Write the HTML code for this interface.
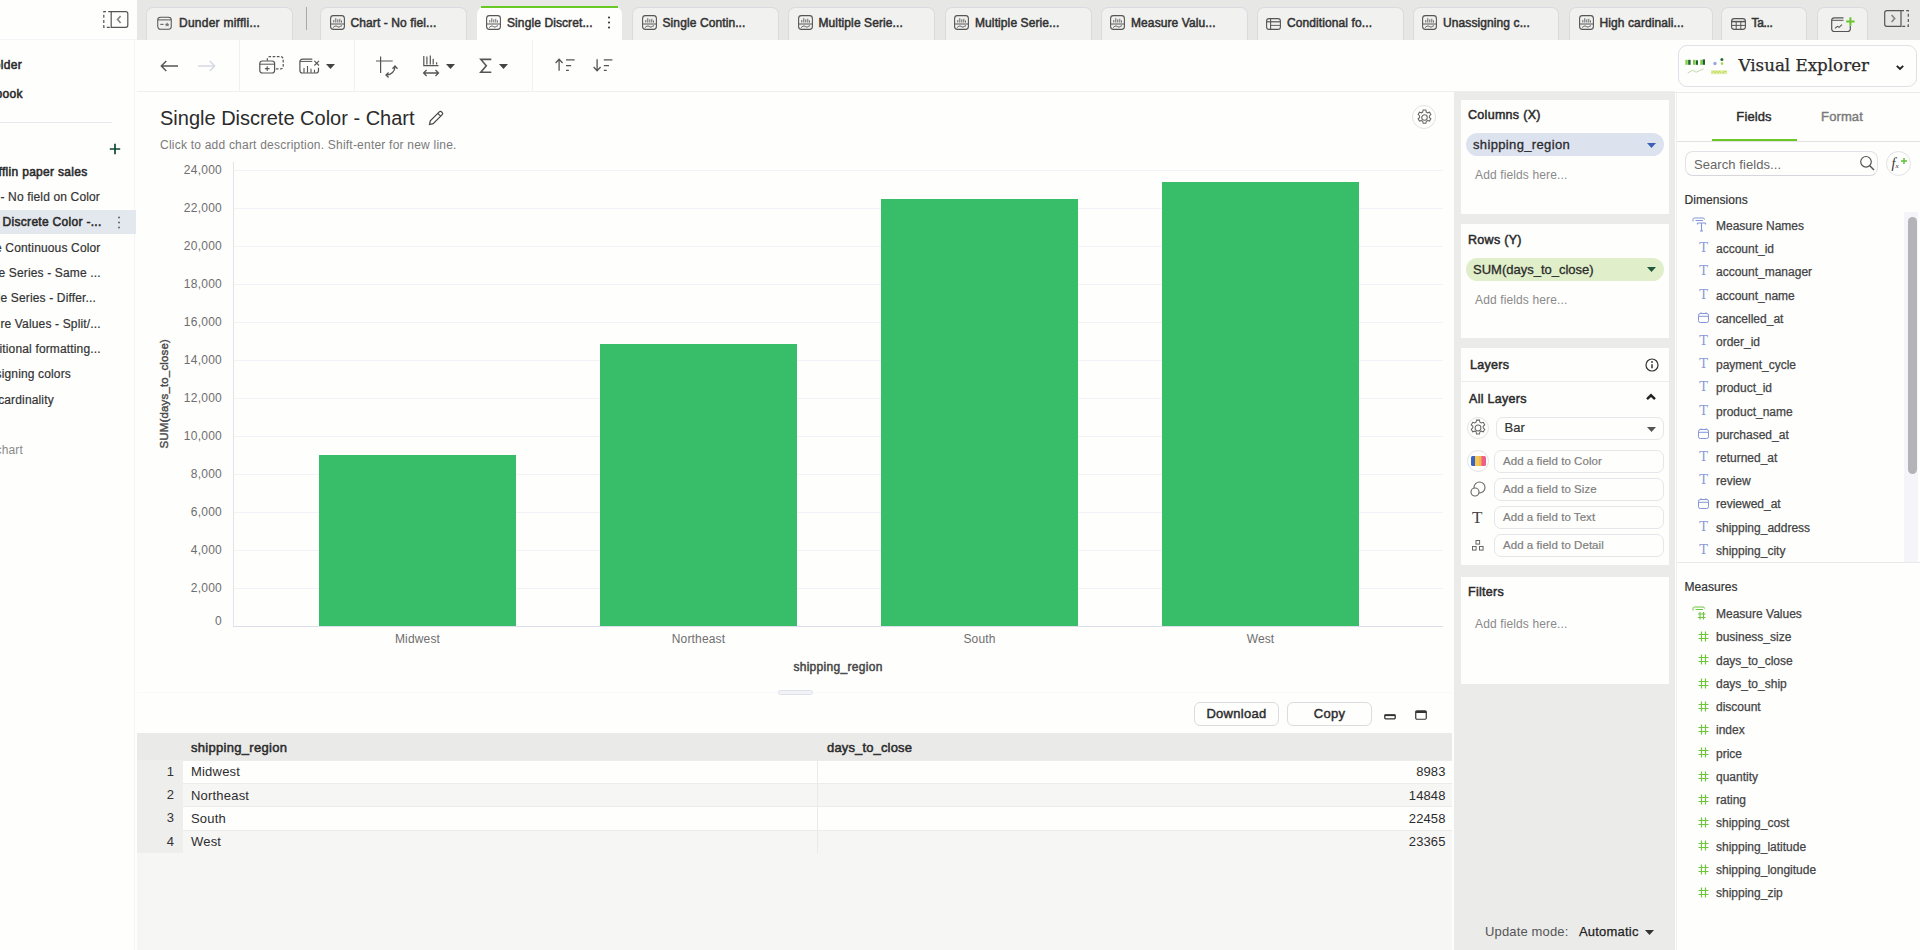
<!DOCTYPE html>
<html lang="en">
<head>
<meta charset="utf-8">
<title>Single Discrete Color - Chart</title>
<style>
*{box-sizing:border-box;margin:0;padding:0}
html,body{width:1920px;height:950px;overflow:hidden;background:#fefefd;}
body{font-family:"Liberation Sans",Arial,sans-serif;color:#2f2f2f;font-size:12px;position:relative;-webkit-font-smoothing:antialiased}
.abs{position:absolute}
svg{position:absolute;overflow:visible}
.t{position:absolute;white-space:nowrap;line-height:1}
/* ---------- left sidebar ---------- */
#side{left:0;top:0;width:137px;height:950px;background:#fefefd}
#side .t{font-size:12px;color:#333;-webkit-text-stroke:.2px #333;letter-spacing:.15px}
#side .b{-webkit-text-stroke:.55px #2b2b2b;color:#2b2b2b;letter-spacing:.3px}
.m{font-weight:normal;-webkit-text-stroke:.4px currentColor}
/* ---------- tab bar ---------- */
#tabbar{left:137px;top:0;width:1783px;height:40px;background:#e7e8e6}
.tab{position:absolute;top:7px;height:33px;background:#f1f1ef;border:1px solid #dadae0;border-bottom:none;border-radius:7px 7px 0 0}
.tab .t{left:29.5px;top:8.6px;font-size:12px;color:#333;-webkit-text-stroke:.5px #333;letter-spacing:.1px}
.tab.act{background:#fefefd;border-color:#fefefd}
.tab svg{left:8.8px;top:7px}
/* ---------- toolbar ---------- */
#toolbar{left:137px;top:40px;width:1538px;height:52px;border-bottom:1px solid #eeeef3}
.vsep{position:absolute;top:0;width:1px;height:51px;background:#f0f0f5}
/* ---------- chart ---------- */
#title{left:160px;top:108px;font-size:20px;color:#2b2b2b}
#sub{left:160px;top:138.5px;font-size:12px;color:#7a7a7a;letter-spacing:.22px}
.ytick{position:absolute;right:1698px;font-size:12px;letter-spacing:.25px;color:#6e6e6e;line-height:12px;text-align:right;white-space:nowrap}
.xtick{position:absolute;font-size:12px;color:#6e6e6e;line-height:12px;width:120px;text-align:center;top:632.7px;letter-spacing:.15px}
.bar{position:absolute;background:#38bd68;width:197px}
.grid{position:absolute;left:234px;width:1209px;height:1px;background:#f2f2f8}
/* ---------- data table ---------- */
#tbl{left:137px;top:733px;width:1315px;height:217px;background:#f6f6f5}
.btn{position:absolute;top:701.5px;height:24px;border:1px solid #dcdce0;border-radius:6px;font-size:13px;-webkit-text-stroke:.45px #2d2d2d;letter-spacing:.3px;color:#2d2d2d;text-align:center;line-height:22px;background:#fefefd}
/* ---------- config panel ---------- */
#cfg{left:1454px;top:92px;width:221px;height:858px;background:#ebebea}
.card{position:absolute;left:7px;width:208px;background:#fefefd}
.card h4{position:absolute;left:7px;font-size:12.5px;letter-spacing:.3px;-webkit-text-stroke:.5px #2b2b2b;font-weight:normal;color:#2b2b2b;line-height:1;white-space:nowrap}
.ph{position:absolute;left:14px;font-size:12px;letter-spacing:.13px;color:#8a8a8a;line-height:1;white-space:nowrap}
.pill{position:absolute;left:5px;width:198px;height:23px;border-radius:11.5px;font-size:13px;line-height:23px;padding-left:7px;color:#2b2b2b;-webkit-text-stroke:.3px #2b2b2b;white-space:nowrap}
.slot{position:absolute;left:33px;width:170px;height:23px;border:1px solid #e6e6ea;border-radius:7px;font-size:11.5px;letter-spacing:.05px;color:#7e7e7e;-webkit-text-stroke:.2px #7e7e7e;line-height:21px;padding-left:8px;white-space:nowrap}
/* ---------- fields panel ---------- */
#fields{left:1675px;top:40px;width:245px;height:910px;background:#fefefd}
.f{position:absolute;left:41px;font-size:12px;color:#444;line-height:1;white-space:nowrap;-webkit-text-stroke:.25px #444}
.sec{position:absolute;left:9.5px;font-size:12px;letter-spacing:.05px;color:#333;line-height:1;white-space:nowrap;-webkit-text-stroke:.2px #333}
</style>
</head>
<body>
<div id="side" class="abs">
<svg style="left:102.500px;top:10.700px" width="26" height="17" viewBox="0 0 26 17" fill="none" stroke="#555" stroke-width="1.200">
<path d="M8.200 .7H22.800a2 2 0 0 1 2 2V14.300a2 2 0 0 1-2 2H8.200z"/><path d="M8.200 .7H.8V16.300H8.200" stroke-dasharray="3 2.200"/><path d="M17.600 5 14.600 8.500 17.600 12" stroke="#888" stroke-width="1.800"/></svg>
<div class="t b" style="right:115px;top:58.5px;font-size:12px;">Folder</div>
<div class="t b" style="right:114.3px;top:87.5px;font-size:12px;">Notebook</div>
<div class="abs" style="left:0;top:122px;width:112px;height:1px;background:#e8e8f0"></div>
<div class="abs" style="left:0;top:39px;width:137px;height:1px;background:#f3f3f8"></div>
<div class="abs" style="left:134px;top:40px;width:1px;height:910px;background:#f4f4f9"></div>
<svg style="left:109px;top:142.5px" width="12" height="12" viewBox="0 0 12 12" stroke="#0c4a2f" stroke-width="1.7" fill="none"><path d="M6 .8V11.2M.8 6H11.2"/></svg>
<div class="abs" style="left:0;top:210px;width:136px;height:24px;background:#e3e7ee"></div>
<div class="t b" style="right:49.5px;top:165.5px;font-size:12px;">Dunder mifflin paper sales</div>
<div class="t " style="right:37px;top:190.8px;font-size:12px;">Chart - No field on Color</div>
<div class="t b" style="right:35.400000000000006px;top:216.1px;font-size:12px;">Single Discrete Color -...</div>
<div class="t " style="right:36.5px;top:241.5px;font-size:12px;">Single Continuous Color</div>
<div class="t " style="right:36.3px;top:266.7px;font-size:12px;">Multiple Series - Same ...</div>
<div class="t " style="right:41px;top:292.1px;font-size:12px;">Multiple Series - Differ...</div>
<div class="t " style="right:36.3px;top:317.5px;font-size:12px;">Measure Values - Split/...</div>
<div class="t " style="right:36.3px;top:343.0px;font-size:12px;">Conditional formatting...</div>
<div class="t " style="right:66px;top:368.2px;font-size:12px;">Unassigning colors</div>
<div class="t " style="right:83.2px;top:393.5px;font-size:12px;">High cardinality</div>
<div class="t " style="right:114px;top:444.0px;font-size:12px;color:#8a8a8a;-webkit-text-stroke:0">chart</div>
<svg style="left:117px;top:216px" width="4" height="13" viewBox="0 0 4 13" fill="#666"><circle cx="2" cy="1.5" r="1"/><circle cx="2" cy="6.5" r="1"/><circle cx="2" cy="11.5" r="1"/></svg>
</div>
<div id="tabbar" class="abs">
<div class="tab " style="left:9px;width:146.5px"><svg style="left:10px;top:8px" width="15" height="14.500" viewBox="0 0 16 16" preserveAspectRatio="none" fill="none" stroke="#555" stroke-width="1.1"><rect x=".8" y="1.300" width="14.400" height="13.400" rx="3"/><path d="M.8 4.300H15.200" /><path d="M3.500 9.200H7" stroke-width="1.100"/><path d="M10.800 6.800l.8 1.700 1.800.2-1.300 1.200.4 1.800-1.700-.9-1.600.9.300-1.800-1.300-1.200 1.800-.2z" fill="#777" stroke="none"/></svg><div class="t" style="left:32px;letter-spacing:.25px">Dunder miffli...</div></div>
<div class="tab " style="left:183px;width:147px"><svg width="15" height="15" viewBox="0 0 15 15" fill="none" stroke="#555" stroke-width="1.1"><rect x=".6" y=".6" width="13.800" height="13.800" rx="2.800"/><path d="M.6 9H14.400" stroke-width="1"/><path d="M3.800 7.500V5M5.800 7.500V3.200M7.800 7.500V4.400M9.800 7.500V3.800M11.500 7.500V5.500" stroke-width=".9"/><path d="M3 12.300c1.300 0 1.300-1.300 2.800-1.300s1.500 1 3 1 1.600-1.200 3.200-1.200" stroke-width="1"/></svg><div class="t">Chart - No fiel...</div></div>
<div class="tab act" style="left:339.5px;width:145px"><svg width="15" height="15" viewBox="0 0 15 15" fill="none" stroke="#555" stroke-width="1.1"><rect x=".6" y=".6" width="13.800" height="13.800" rx="2.800"/><path d="M.6 9H14.400" stroke-width="1"/><path d="M3.800 7.500V5M5.800 7.500V3.200M7.800 7.500V4.400M9.800 7.500V3.800M11.500 7.500V5.500" stroke-width=".9"/><path d="M3 12.300c1.300 0 1.300-1.300 2.800-1.300s1.500 1 3 1 1.600-1.200 3.200-1.200" stroke-width="1"/></svg><div class="t">Single Discret...</div></div>
<div class="abs" style="left:344.0px;top:6px;width:136.5px;height:2px;background:#69c824"></div>
<div class="tab " style="left:495px;width:146.5px"><svg width="15" height="15" viewBox="0 0 15 15" fill="none" stroke="#555" stroke-width="1.1"><rect x=".6" y=".6" width="13.800" height="13.800" rx="2.800"/><path d="M.6 9H14.400" stroke-width="1"/><path d="M3.800 7.500V5M5.800 7.500V3.200M7.800 7.500V4.400M9.800 7.500V3.800M11.500 7.500V5.500" stroke-width=".9"/><path d="M3 12.300c1.300 0 1.300-1.300 2.800-1.300s1.500 1 3 1 1.600-1.200 3.200-1.200" stroke-width="1"/></svg><div class="t">Single Contin...</div></div>
<div class="tab " style="left:651px;width:147px"><svg width="15" height="15" viewBox="0 0 15 15" fill="none" stroke="#555" stroke-width="1.1"><rect x=".6" y=".6" width="13.800" height="13.800" rx="2.800"/><path d="M.6 9H14.400" stroke-width="1"/><path d="M3.800 7.500V5M5.800 7.500V3.200M7.800 7.500V4.400M9.800 7.500V3.800M11.500 7.500V5.500" stroke-width=".9"/><path d="M3 12.300c1.300 0 1.300-1.300 2.800-1.300s1.500 1 3 1 1.600-1.200 3.200-1.200" stroke-width="1"/></svg><div class="t">Multiple Serie...</div></div>
<div class="tab " style="left:807.5px;width:147px"><svg width="15" height="15" viewBox="0 0 15 15" fill="none" stroke="#555" stroke-width="1.1"><rect x=".6" y=".6" width="13.800" height="13.800" rx="2.800"/><path d="M.6 9H14.400" stroke-width="1"/><path d="M3.800 7.500V5M5.800 7.500V3.200M7.800 7.500V4.400M9.800 7.500V3.800M11.500 7.500V5.500" stroke-width=".9"/><path d="M3 12.300c1.300 0 1.300-1.300 2.800-1.300s1.500 1 3 1 1.600-1.200 3.200-1.200" stroke-width="1"/></svg><div class="t">Multiple Serie...</div></div>
<div class="tab " style="left:963.5px;width:147px"><svg width="15" height="15" viewBox="0 0 15 15" fill="none" stroke="#555" stroke-width="1.1"><rect x=".6" y=".6" width="13.800" height="13.800" rx="2.800"/><path d="M.6 9H14.400" stroke-width="1"/><path d="M3.800 7.500V5M5.800 7.500V3.200M7.800 7.500V4.400M9.800 7.500V3.800M11.500 7.500V5.500" stroke-width=".9"/><path d="M3 12.300c1.300 0 1.300-1.300 2.800-1.300s1.500 1 3 1 1.600-1.200 3.200-1.200" stroke-width="1"/></svg><div class="t">Measure Valu...</div></div>
<div class="tab " style="left:1119.5px;width:147px"><svg style="top:9.5px" width="15" height="12" viewBox="0 0 15 12" fill="none" stroke="#555" stroke-width="1.1"><rect x=".6" y=".6" width="13.800" height="10.800" rx="2.400"/><path d="M.6 3.800H14.400" stroke-width="1.200"/><path d="M4.600 .6V11.400" stroke-width="1.100"/><path d="M4.600 7.400H14.400" stroke-width=".9"/></svg><div class="t">Conditional fo...</div></div>
<div class="tab " style="left:1275.5px;width:146.5px"><svg width="15" height="15" viewBox="0 0 15 15" fill="none" stroke="#555" stroke-width="1.1"><rect x=".6" y=".6" width="13.800" height="13.800" rx="2.800"/><path d="M.6 9H14.400" stroke-width="1"/><path d="M3.800 7.500V5M5.800 7.500V3.200M7.800 7.500V4.400M9.800 7.500V3.800M11.500 7.500V5.500" stroke-width=".9"/><path d="M3 12.300c1.300 0 1.300-1.300 2.800-1.300s1.500 1 3 1 1.600-1.200 3.200-1.200" stroke-width="1"/></svg><div class="t">Unassigning c...</div></div>
<div class="tab " style="left:1432px;width:143.5px"><svg width="15" height="15" viewBox="0 0 15 15" fill="none" stroke="#555" stroke-width="1.1"><rect x=".6" y=".6" width="13.800" height="13.800" rx="2.800"/><path d="M.6 9H14.400" stroke-width="1"/><path d="M3.800 7.500V5M5.800 7.500V3.200M7.800 7.500V4.400M9.800 7.500V3.800M11.500 7.500V5.500" stroke-width=".9"/><path d="M3 12.300c1.300 0 1.300-1.300 2.800-1.300s1.500 1 3 1 1.600-1.200 3.200-1.200" stroke-width="1"/></svg><div class="t">High cardinali...</div></div>
<div class="tab " style="left:1584px;width:85.5px"><svg style="top:9.5px" width="15" height="12" viewBox="0 0 15 12" fill="none" stroke="#555" stroke-width="1.1"><rect x=".6" y=".6" width="13.800" height="10.800" rx="2.600"/><path d="M.6 3.600H14.400" stroke-width="1.500"/><path d="M.6 7.400H14.400M5.200 3.600V11.400M9.800 3.600V11.400" stroke-width="1"/></svg><div class="t" style="letter-spacing:-.35px">Ta...</div></div>
<svg style="left:470px;top:16px" width="4" height="13" viewBox="0 0 4 13" fill="#333"><circle cx="2" cy="1.5" r="1.05"/><circle cx="2" cy="6.5" r="1.05"/><circle cx="2" cy="11.5" r="1.05"/></svg>
<div class="abs" style="left:169px;top:7px;width:1px;height:23px;background:#a9a9a9"></div>
<div class="tab" style="left:1679.500px;width:51px"><svg style="left:13.500px;top:7.500px" width="26" height="18" viewBox="0 0 26 18" fill="none" stroke="#555" stroke-width="1.200"><path d="M12.500 1.800H3.200A2.500 2.500 0 0 0 .7 4.300V13A2.500 2.500 0 0 0 3.200 15.500H16.800A2.500 2.500 0 0 0 19.300 13V9.800"/><path d="M.7 4.300H12.500" stroke-width="1"/><path d="M4 12.300l2.300-2 1.800 1 2.900-2.600" stroke-width="1.100"/><path d="M19.400 1.300V9.700M15.200 5.500H23.600" stroke="#6ac52c" stroke-width="2"/></svg></div>
<svg style="left:1747px;top:10px" width="25" height="17" viewBox="0 0 25 17" fill="none" stroke="#555" stroke-width="1.200">
<path d="M17 .7H2.700a2 2 0 0 0-2 2V14.300a2 2 0 0 0 2 2H17z"/><path d="M17 .7H24.300V16.300H17" stroke-dasharray="3 2.200"/><path d="M7.600 5 10.600 8.500 7.600 12" stroke="#888" stroke-width="1.800"/></svg>
</div>
<div id="toolbar" class="abs">
<div class="vsep" style="left:101.5px"></div>
<div class="vsep" style="left:216.5px"></div>
<div class="vsep" style="left:394.5px"></div>
<svg style="left:23px;top:19.5px" width="19" height="12" viewBox="0 0 19 12" fill="none" stroke="#555" stroke-width="1.4"><path d="M18 6H1.500M6.300 1 1.300 6 6.300 11"/></svg>
<svg style="left:60px;top:19.5px" width="19" height="12" viewBox="0 0 19 12" fill="none" stroke="#d6d8e4" stroke-width="1.4"><path d="M1 6H17.500M12.700 1 17.700 6 12.700 11"/></svg>
<svg style="left:122px;top:16px" width="25" height="18" viewBox="0 0 25 18" fill="none" stroke="#555" stroke-width="1.200"><rect x=".8" y="5" width="14.800" height="12" rx="2.500"/><path d="M.8 8.200H15.600" stroke-width="1"/><path d="M8.200 10.300V15M5.900 12.650H10.500" stroke-width="1.100"/><path d="M8.300 4.800V3.100a2.500 2.500 0 0 1 2.500-2.500H21.700a2.500 2.500 0 0 1 2.500 2.500V10.400a2.500 2.500 0 0 1-2.500 2.500H16" stroke-dasharray="2.600 1.600"/></svg>
<svg style="left:162px;top:18px" width="22" height="16" viewBox="0 0 22 16" fill="none" stroke="#555" stroke-width="1.200"><path d="M13.300 1.200H3.400A2.500 2.500 0 0 0 .9 3.700V12.500A2.500 2.500 0 0 0 3.400 15H17A2.500 2.500 0 0 0 19.500 12.500V9.800"/><path d="M.9 3.400H13.300" stroke-width="1"/><path d="M5 14.800V10M8.500 14.800V8M12 14.800V10.800M15.500 14.800V11.800" stroke-width="1.100"/><path d="M15.400 2.900 20 7.500M20 2.900 15.400 7.500" stroke-width="1.100"/></svg>
<svg style="left:188.5px;top:24px" width="9" height="5" viewBox="0 0 9 5"><path d="M0 0H9L4.5 5z" fill="#444"/></svg>
<svg style="left:238px;top:15px" width="24" height="24" viewBox="0 0 24 24" fill="none" stroke="#555" stroke-width="1.200"><path d="M5.600 1.500V18M1 6H17.700"/><path d="M11.500 20A8.500 8.500 0 0 0 20 11.500" stroke-width="1.300"/><path d="M13.600 17.600 11 20 13.600 22.500" stroke-width="1.300"/><path d="M17.500 13.700 20 11 22.500 13.700" stroke-width="1.300"/></svg>
<svg style="left:285px;top:15px" width="18" height="22" viewBox="0 0 18 22" fill="none" stroke="#555" stroke-width="1.200"><path d="M1.800 .9V10.600H16.500"/><path d="M4.900 9.500V1.500M8.300 9.500V.4M11.200 9.500V3.700M14.600 9.500V7.200" stroke-width="1.200"/><path d="M1.600 18H16.500M4.600 15 1.600 18 4.600 21M13.500 15 16.500 18 13.500 21" stroke-width="1.300"/></svg>
<svg style="left:309px;top:24px" width="9" height="5" viewBox="0 0 9 5"><path d="M0 0H9L4.5 5z" fill="#444"/></svg>
<svg style="left:341.500px;top:18px" width="13" height="16" viewBox="0 0 13 16" fill="none" stroke="#555" stroke-width="1.600"><path d="M12.300 1.400H1.800L7.300 7.800 1.800 14.200H12.300" stroke-linejoin="miter"/></svg>
<svg style="left:362px;top:24px" width="9" height="5" viewBox="0 0 9 5"><path d="M0 0H9L4.5 5z" fill="#444"/></svg>
<svg style="left:418px;top:18px" width="21" height="14" viewBox="0 0 21 14" fill="none" stroke="#555" stroke-width="1.300"><path d="M4.100 12.800V1.500M.6 5 4.100 1.300 7.600 5"/><path d="M11 1.900H19.600M11 7.600H16.200M11 12.400H13.900"/></svg>
<svg style="left:456px;top:18px" width="21" height="14" viewBox="0 0 21 14" fill="none" stroke="#555" stroke-width="1.300"><path d="M4.100 1.300V12.500M.6 9 4.100 12.700 7.600 9"/><path d="M10.800 1.900H19.400M10.800 7.600H16M10.800 12.400H13.700"/></svg>
</div>
<div id="title" class="t">Single Discrete Color - Chart</div>
<svg style="left:427.5px;top:110px" width="16" height="16" viewBox="0 0 16 16" fill="none" stroke="#444" stroke-width="1.200"><path d="M1.500 14.500 2.300 10.800 11.300 1.800a1.500 1.500 0 0 1 2.100 0l.8 .8a1.500 1.500 0 0 1 0 2.100L5.200 13.700z"/><path d="M9.800 3.300 12.700 6.200"/></svg>
<div id="sub" class="t">Click to add chart description. Shift-enter for new line.</div>
<div class="abs" style="left:1412px;top:105px;width:24px;height:24px;border:1px solid #e2e2e6;border-radius:12px"></div><svg style="left:1415.5px;top:108.5px" width="17" height="17" viewBox="0 0 16 16" fill="none" stroke="#666" stroke-width="1"><path d="M8 5.400a2.600 2.600 0 1 0 0 5.200 2.600 2.600 0 0 0 0-5.200z"/><path d="M6.700 1h2.600l.4 1.900 1.200 .7 1.800-.6 1.300 2.200-1.400 1.300v1.400l1.400 1.300-1.300 2.200-1.800-.6-1.200 .7-.4 1.900H6.700l-.4-1.900-1.200-.7-1.800 .6L2 9.200l1.400-1.300V6.500L2 5.200l1.300-2.200 1.800 .6 1.200-.7z"/></svg>
<div class="ytick" style="top:614.5px">0</div>
<div class="grid" style="top:587.5px"></div>
<div class="ytick" style="top:581.5px">2,000</div>
<div class="grid" style="top:549.5px"></div>
<div class="ytick" style="top:543.5px">4,000</div>
<div class="grid" style="top:511.5px"></div>
<div class="ytick" style="top:505.5px">6,000</div>
<div class="grid" style="top:473.5px"></div>
<div class="ytick" style="top:467.5px">8,000</div>
<div class="grid" style="top:435.5px"></div>
<div class="ytick" style="top:429.5px">10,000</div>
<div class="grid" style="top:397.5px"></div>
<div class="ytick" style="top:391.5px">12,000</div>
<div class="grid" style="top:359.5px"></div>
<div class="ytick" style="top:353.5px">14,000</div>
<div class="grid" style="top:321.5px"></div>
<div class="ytick" style="top:315.5px">16,000</div>
<div class="grid" style="top:283.5px"></div>
<div class="ytick" style="top:277.5px">18,000</div>
<div class="grid" style="top:245.5px"></div>
<div class="ytick" style="top:239.5px">20,000</div>
<div class="grid" style="top:207.5px"></div>
<div class="ytick" style="top:201.5px">22,000</div>
<div class="grid" style="top:169.5px"></div>
<div class="ytick" style="top:163.5px">24,000</div>
<div class="abs" style="left:233px;top:162px;width:1px;height:465px;background:#e2e3ee"></div>
<div class="abs" style="left:233px;top:626px;width:1210px;height:1px;background:#dcdeea"></div>
<div class="bar" style="left:319px;top:455.3px;height:170.7px"></div>
<div class="xtick" style="left:357.5px">Midwest</div>
<div class="bar" style="left:600px;top:343.9px;height:282.1px"></div>
<div class="xtick" style="left:638.5px">Northeast</div>
<div class="bar" style="left:881px;top:199.3px;height:426.7px"></div>
<div class="xtick" style="left:919.5px">South</div>
<div class="bar" style="left:1162px;top:182.1px;height:443.9px"></div>
<div class="xtick" style="left:1200.5px">West</div>
<div class="t " style="left:0px;top:660.8px;font-size:12px;left:738px;width:200px;text-align:center;color:#484848;-webkit-text-stroke:.5px #484848;letter-spacing:.3px">shipping_region</div>
<div class="t" style="left:65px;top:388px;width:200px;text-align:center;font-size:11.5px;-webkit-text-stroke:.4px #4a4a4a;letter-spacing:.15px;color:#4a4a4a;transform:rotate(-90deg);transform-origin:50% 50%">SUM(days_to_close)</div>
<div class="abs" style="left:137px;top:692px;width:1315px;height:1px;background:#f9f9fc"></div>
<div class="abs" style="left:778px;top:690px;width:35px;height:5px;border:1px solid #dfe1ea;border-radius:3px;background:#f2f3f7"></div>
<div class="btn" style="left:1194px;width:85px">Download</div>
<div class="btn" style="left:1287px;width:85px">Copy</div>
<svg style="left:1384px;top:713px" width="12" height="7" viewBox="0 0 12 7" fill="none" stroke="#333" stroke-width="1.300"><rect x=".8" y="1.800" width="10.400" height="4" rx=".8"/><path d="M.8 2.300H11.200" stroke-width="1.600"/></svg>
<svg style="left:1415px;top:710px" width="12" height="10" viewBox="0 0 13 11" preserveAspectRatio="none" fill="none" stroke="#333" stroke-width="1.300"><rect x=".8" y=".8" width="11.400" height="9.400" rx="1.300"/><path d="M.8 2.200H12.200" stroke-width="2.200"/></svg>
<div id="tbl" class="abs">
<div class="abs" style="left:0;top:0;width:1315px;height:27px;background:#eaeae9"></div>
<div class="abs" style="left:0;top:27px;width:46px;height:93px;background:#eeeeed"></div>
<div class="abs" style="left:46px;top:27.0px;width:1269px;height:23.2px;background:#fefefd;border-top:1px solid #ececeb"></div>
<div class="t " style="left:0px;top:31.9px;font-size:13px;left:0;width:37px;text-align:right;color:#333">1</div>
<div class="t " style="left:54px;top:32.4px;font-size:13px;color:#2d2d2d;letter-spacing:.2px">Midwest</div>
<div class="t " style="right:6.5px;top:32.4px;font-size:13px;color:#2d2d2d;letter-spacing:.1px">8983</div>
<div class="abs" style="left:46px;top:50.2px;width:1269px;height:23.2px;background:#f6f6f5;border-top:1px solid #ececeb"></div>
<div class="t " style="left:0px;top:55.1px;font-size:13px;left:0;width:37px;text-align:right;color:#333">2</div>
<div class="t " style="left:54px;top:55.6px;font-size:13px;color:#2d2d2d;letter-spacing:.2px">Northeast</div>
<div class="t " style="right:6.5px;top:55.6px;font-size:13px;color:#2d2d2d;letter-spacing:.1px">14848</div>
<div class="abs" style="left:46px;top:73.4px;width:1269px;height:23.2px;background:#fefefd;border-top:1px solid #ececeb"></div>
<div class="t " style="left:0px;top:78.3px;font-size:13px;left:0;width:37px;text-align:right;color:#333">3</div>
<div class="t " style="left:54px;top:78.8px;font-size:13px;color:#2d2d2d;letter-spacing:.2px">South</div>
<div class="t " style="right:6.5px;top:78.8px;font-size:13px;color:#2d2d2d;letter-spacing:.1px">22458</div>
<div class="abs" style="left:46px;top:96.6px;width:1269px;height:23.2px;background:#f6f6f5;border-top:1px solid #ececeb"></div>
<div class="t " style="left:0px;top:101.5px;font-size:13px;left:0;width:37px;text-align:right;color:#333">4</div>
<div class="t " style="left:54px;top:102.0px;font-size:13px;color:#2d2d2d;letter-spacing:.2px">West</div>
<div class="t " style="right:6.5px;top:102.0px;font-size:13px;color:#2d2d2d;letter-spacing:.1px">23365</div>
<div class="abs" style="left:680px;top:27px;width:1px;height:93px;background:#eaeae9"></div>
<div class="t " style="left:54px;top:7.5px;font-size:13px;-webkit-text-stroke:.5px #2b2b2b;color:#2b2b2b;letter-spacing:.3px">shipping_region</div>
<div class="t " style="left:690px;top:7.5px;font-size:13px;-webkit-text-stroke:.5px #2b2b2b;color:#2b2b2b;letter-spacing:.15px">days_to_close</div>
</div>
<div id="cfg" class="abs">
<div class="card" style="top:7.5px;height:114px"><h4 class="m" style="top:9.5px">Columns (X)</h4><div class="pill" style="top:33.8px;background:#dde2ef;letter-spacing:.35px">shipping_region</div><svg style="left:186px;top:43.3px" width="9" height="5" viewBox="0 0 9 5"><path d="M0 0H9L4.5 5z" fill="#3d5fb8"/></svg><div class="ph" style="top:69.500px">Add fields here...</div></div>
<div class="card" style="top:132px;height:114px"><h4 class="m" style="top:10px">Rows (Y)</h4><div class="pill" style="top:33.8px;background:#e0efc9">SUM(days_to_close)</div><svg style="left:186px;top:43.3px" width="9" height="5" viewBox="0 0 9 5"><path d="M0 0H9L4.5 5z" fill="#1f5a3a"/></svg><div class="ph" style="top:69.500px">Add fields here...</div></div>
<div class="card" style="top:256px;height:217px">
<h4 class="m" style="top:10.500px;left:9px">Layers</h4>
<svg style="left:184px;top:10px" width="14" height="14" viewBox="0 0 14 14" fill="none" stroke="#333" stroke-width="1.200"><circle cx="7" cy="7" r="6"/><path d="M7 6.200V10.200" stroke-width="1.500"/><circle cx="7" cy="4" r=".9" fill="#333" stroke="none"/></svg>
<div class="abs" style="left:0;top:33px;width:208px;height:1px;background:#ededf0"></div>
<h4 class="m" style="top:45px;left:8px">All Layers</h4>
<svg style="left:185px;top:46px" width="10" height="6" viewBox="0 0 10 6" fill="none" stroke="#222" stroke-width="2.4"><path d="M1 5.200 5 1.300 9 5.200"/></svg>
<div class="abs" style="left:6px;top:69px;width:22px;height:22px;border:1px solid #e4e4e8;border-radius:11px"></div><svg style="left:8px;top:71px" width="18" height="18" viewBox="0 0 16 16" fill="none" stroke="#666" stroke-width=".9"><path d="M8 5.400a2.600 2.600 0 1 0 0 5.200 2.600 2.600 0 0 0 0-5.200z"/><path d="M6.700 1h2.600l.4 1.900 1.200 .7 1.800-.6 1.300 2.200-1.400 1.300v1.400l1.400 1.300-1.300 2.200-1.800-.6-1.200 .7-.4 1.900H6.700l-.4-1.900-1.200-.7-1.800 .6L2 9.200l1.400-1.300V6.500L2 5.200l1.300-2.200 1.800 .6 1.200-.7z"/></svg>
<div class="slot" style="left:34.500px;width:168.500px;top:68.500px;font-size:13px;color:#333;-webkit-text-stroke:.2px #333;padding-left:8px;line-height:19.500px">Bar</div>
<svg style="left:186px;top:79px" width="9" height="5" viewBox="0 0 9 5"><path d="M0 0H9L4.5 5z" fill="#555"/></svg>
<div class="abs" style="left:6px;top:102px;width:22px;height:22px;border:1px solid #e4e4e8;border-radius:11px"></div>
<svg style="left:9.500px;top:108px" width="15" height="10" viewBox="0 0 15 10"><rect x="0" y="0" width="4" height="10" rx="1.500" fill="#3b63c4"/><rect x="3.500" y="0" width="4" height="10" fill="#f2c94c"/><rect x="7.300" y="0" width="4" height="10" fill="#f0b84a"/><rect x="11" y="0" width="4" height="10" rx="1.500" fill="#ee5f87"/><rect x="10.500" y="0" width="2" height="10" fill="#ee5f87"/><rect x="2.500" y="0" width="1.500" height="10" fill="#3b63c4"/></svg>
<div class="slot" style="top:101.500px">Add a field to Color</div>
<svg style="left:9px;top:133px" width="16" height="16" viewBox="0 0 16 16" fill="none" stroke="#666" stroke-width="1.100"><circle cx="9.500" cy="6.500" r="5.500"/><circle cx="5" cy="11" r="4" fill="#fefefd"/></svg>
<div class="slot" style="top:130px">Add a field to Size</div>
<div class="t" style="left:11px;top:161px;font-family:'Liberation Serif',serif;font-size:17px;color:#444">T</div>
<div class="slot" style="top:158px">Add a field to Text</div>
<svg style="left:11px;top:192px" width="12" height="11" viewBox="0 0 12 11" fill="none" stroke="#666" stroke-width="1"><rect x="4" y=".5" width="3.600" height="3.600"/><rect x=".5" y="6.500" width="3.600" height="3.600"/><rect x="7.500" y="6.500" width="3.600" height="3.600"/></svg>
<div class="slot" style="top:186px">Add a field to Detail</div>
</div>
<div class="card" style="top:484.5px;height:107px"><h4 class="m" style="top:9.500px">Filters</h4><div class="ph" style="top:41.5px">Add fields here...</div></div>
<div class="t " style="left:31px;top:832.5px;font-size:13px;color:#555;letter-spacing:.15px">Update mode:</div>
<div class="t " style="left:125px;top:832.5px;font-size:13px;color:#222;-webkit-text-stroke:.25px #222;letter-spacing:.2px">Automatic</div>
<svg style="left:190.5px;top:837.5px" width="9" height="5" viewBox="0 0 9 5"><path d="M0 0H9L4.5 5z" fill="#333"/></svg>
</div>
<div id="fields" class="abs">
<div class="abs" style="left:1px;top:52px;width:1px;height:858px;background:#f0f0f4"></div>
<div class="abs" style="left:0;top:52px;width:245px;height:1px;background:#ececf0"></div>
<div class="t m" style="left:0px;top:70.0px;font-size:13px;left:39px;width:80px;text-align:center;color:#2b2b2b;letter-spacing:.1px">Fields</div>
<div class="t m" style="left:0px;top:70.0px;font-size:13px;left:127px;width:80px;text-align:center;color:#7a7a7a;letter-spacing:.1px">Format</div>
<div class="abs" style="left:2px;top:101px;width:243px;height:1px;background:#e2e2e4"></div>
<div class="abs" style="left:37px;top:99px;width:85px;height:2px;background:#69c824"></div>
<div class="abs" style="left:9.5px;top:111px;width:193.500px;height:25px;border:1px solid #e2e2e8;border-bottom-color:#d6d6dc;border-radius:8px"></div>
<div class="t " style="left:19px;top:117.5px;font-size:13px;color:#666;letter-spacing:.07px">Search fields...</div>
<svg style="left:184px;top:115px" width="16" height="16" viewBox="0 0 16 16" fill="none" stroke="#555" stroke-width="1.200"><circle cx="7" cy="6.800" r="5.300"/><path d="M10.800 10.800 15 15" stroke-width="1.500"/></svg>
<div class="abs" style="left:211px;top:111px;width:25px;height:25px;border:1px solid #e2e2e8;border-radius:12.500px"></div>
<div class="t" style="left:216.5px;top:117px;font-family:'Liberation Serif',serif;font-style:italic;font-size:14px;color:#333">f<span style="font-size:7px">x</span></div><svg style="left:225.5px;top:118px" width="6" height="6" viewBox="0 0 7 7" stroke="#5cc03a" stroke-width="1.700"><path d="M3.500 0V7M0 3.500H7"/></svg>
<div class="sec" style="top:153.7px">Dimensions</div>
<svg style="left:16.5px;top:177.3px" width="15" height="15" viewBox="0 0 15 15" fill="none" stroke="#8495d6" stroke-width="1"><path d="M1 4.500V2.500a1.500 1.500 0 0 1 1.500-1.500H11a1.500 1.500 0 0 1 1.500 1.500" /><path d="M3.500 3.500H11"/><path d="M5.500 6H13.500M5.500 6V7.500M13.500 6V7.500M9.500 6V14M8 14H11" stroke-width="1.100"/></svg>
<div class="f" style="top:179.8px">Measure Names</div>
<div class="t" style="left:24.299999999999955px;top:201.0px;font-family:'DejaVu Serif','Liberation Serif',serif;font-size:13px;color:#8a9ad8">T</div>
<div class="f" style="top:203.0px">account_id</div>
<div class="t" style="left:24.299999999999955px;top:224.2px;font-family:'DejaVu Serif','Liberation Serif',serif;font-size:13px;color:#8a9ad8">T</div>
<div class="f" style="top:226.2px">account_manager</div>
<div class="t" style="left:24.299999999999955px;top:247.5px;font-family:'DejaVu Serif','Liberation Serif',serif;font-size:13px;color:#8a9ad8">T</div>
<div class="f" style="top:249.5px">account_name</div>
<svg style="left:23px;top:271.9px" width="11" height="11" viewBox="0 0 11 11" fill="none" stroke="#8495d6" stroke-width="1"><rect x=".5" y="1.500" width="10" height="9" rx="1.800"/><path d="M.5 4.300H10.500M3 .3V2M8 .3V2"/></svg>
<div class="f" style="top:272.7px">cancelled_at</div>
<div class="t" style="left:24.299999999999955px;top:293.9px;font-family:'DejaVu Serif','Liberation Serif',serif;font-size:13px;color:#8a9ad8">T</div>
<div class="f" style="top:295.9px">order_id</div>
<div class="t" style="left:24.299999999999955px;top:317.1px;font-family:'DejaVu Serif','Liberation Serif',serif;font-size:13px;color:#8a9ad8">T</div>
<div class="f" style="top:319.1px">payment_cycle</div>
<div class="t" style="left:24.299999999999955px;top:340.3px;font-family:'DejaVu Serif','Liberation Serif',serif;font-size:13px;color:#8a9ad8">T</div>
<div class="f" style="top:342.3px">product_id</div>
<div class="t" style="left:24.299999999999955px;top:363.6px;font-family:'DejaVu Serif','Liberation Serif',serif;font-size:13px;color:#8a9ad8">T</div>
<div class="f" style="top:365.6px">product_name</div>
<svg style="left:23px;top:388.0px" width="11" height="11" viewBox="0 0 11 11" fill="none" stroke="#8495d6" stroke-width="1"><rect x=".5" y="1.500" width="10" height="9" rx="1.800"/><path d="M.5 4.300H10.500M3 .3V2M8 .3V2"/></svg>
<div class="f" style="top:388.8px">purchased_at</div>
<div class="t" style="left:24.299999999999955px;top:410.0px;font-family:'DejaVu Serif','Liberation Serif',serif;font-size:13px;color:#8a9ad8">T</div>
<div class="f" style="top:412.0px">returned_at</div>
<div class="t" style="left:24.299999999999955px;top:433.2px;font-family:'DejaVu Serif','Liberation Serif',serif;font-size:13px;color:#8a9ad8">T</div>
<div class="f" style="top:435.2px">review</div>
<svg style="left:23px;top:457.6px" width="11" height="11" viewBox="0 0 11 11" fill="none" stroke="#8495d6" stroke-width="1"><rect x=".5" y="1.500" width="10" height="9" rx="1.800"/><path d="M.5 4.300H10.500M3 .3V2M8 .3V2"/></svg>
<div class="f" style="top:458.4px">reviewed_at</div>
<div class="t" style="left:24.299999999999955px;top:479.7px;font-family:'DejaVu Serif','Liberation Serif',serif;font-size:13px;color:#8a9ad8">T</div>
<div class="f" style="top:481.7px">shipping_address</div>
<div class="t" style="left:24.299999999999955px;top:502.9px;font-family:'DejaVu Serif','Liberation Serif',serif;font-size:13px;color:#8a9ad8">T</div>
<div class="f" style="top:504.9px">shipping_city</div>
<div class="abs" style="left:229px;top:172px;width:14px;height:350px;background:#f5f5f9"></div>
<div class="abs" style="left:232.5px;top:176.5px;width:9px;height:257px;border-radius:4.5px;background:#b4b4b8"></div>
<div class="abs" style="left:2px;top:521.8px;width:243px;height:1px;background:#e9e9ec"></div>
<div class="sec" style="top:540.9px">Measures</div>
<svg style="left:16.5px;top:565.7px" width="15" height="15" viewBox="0 0 15 15" fill="none" stroke="#6ec63f" stroke-width="1"><path d="M1 4.500V2.500a1.500 1.500 0 0 1 1.500-1.500H11a1.500 1.500 0 0 1 1.500 1.500" /><path d="M3.500 3.500H11"/><path d="M8 6V13.500M11.500 6V13.500M6 8H13.500M6 11.500H13.500" stroke-width="1.100"/></svg>
<div class="f" style="top:568.2px">Measure Values</div>
<svg style="left:23px;top:591.1px" width="11" height="11" viewBox="0 0 11 11" fill="none" stroke="#6ec63f" stroke-width="1.200"><path d="M3.500 .5V10.500M7.500 .5V10.500M.5 3.500H10.500M.5 7.500H10.500"/></svg>
<div class="f" style="top:591.4px">business_size</div>
<svg style="left:23px;top:614.4px" width="11" height="11" viewBox="0 0 11 11" fill="none" stroke="#6ec63f" stroke-width="1.200"><path d="M3.500 .5V10.500M7.500 .5V10.500M.5 3.500H10.500M.5 7.500H10.500"/></svg>
<div class="f" style="top:614.7px">days_to_close</div>
<svg style="left:23px;top:637.6px" width="11" height="11" viewBox="0 0 11 11" fill="none" stroke="#6ec63f" stroke-width="1.200"><path d="M3.500 .5V10.500M7.500 .5V10.500M.5 3.500H10.500M.5 7.500H10.500"/></svg>
<div class="f" style="top:637.9px">days_to_ship</div>
<svg style="left:23px;top:660.9px" width="11" height="11" viewBox="0 0 11 11" fill="none" stroke="#6ec63f" stroke-width="1.200"><path d="M3.500 .5V10.500M7.500 .5V10.500M.5 3.500H10.500M.5 7.500H10.500"/></svg>
<div class="f" style="top:661.2px">discount</div>
<svg style="left:23px;top:684.1px" width="11" height="11" viewBox="0 0 11 11" fill="none" stroke="#6ec63f" stroke-width="1.200"><path d="M3.500 .5V10.500M7.500 .5V10.500M.5 3.500H10.500M.5 7.500H10.500"/></svg>
<div class="f" style="top:684.4px">index</div>
<svg style="left:23px;top:707.3px" width="11" height="11" viewBox="0 0 11 11" fill="none" stroke="#6ec63f" stroke-width="1.200"><path d="M3.500 .5V10.500M7.500 .5V10.500M.5 3.500H10.500M.5 7.500H10.500"/></svg>
<div class="f" style="top:707.6px">price</div>
<svg style="left:23px;top:730.6px" width="11" height="11" viewBox="0 0 11 11" fill="none" stroke="#6ec63f" stroke-width="1.200"><path d="M3.500 .5V10.500M7.500 .5V10.500M.5 3.500H10.500M.5 7.500H10.500"/></svg>
<div class="f" style="top:730.9px">quantity</div>
<svg style="left:23px;top:753.8px" width="11" height="11" viewBox="0 0 11 11" fill="none" stroke="#6ec63f" stroke-width="1.200"><path d="M3.500 .5V10.500M7.500 .5V10.500M.5 3.500H10.500M.5 7.500H10.500"/></svg>
<div class="f" style="top:754.1px">rating</div>
<svg style="left:23px;top:777.1px" width="11" height="11" viewBox="0 0 11 11" fill="none" stroke="#6ec63f" stroke-width="1.200"><path d="M3.500 .5V10.500M7.500 .5V10.500M.5 3.500H10.500M.5 7.500H10.500"/></svg>
<div class="f" style="top:777.4px">shipping_cost</div>
<svg style="left:23px;top:800.3px" width="11" height="11" viewBox="0 0 11 11" fill="none" stroke="#6ec63f" stroke-width="1.200"><path d="M3.500 .5V10.500M7.500 .5V10.500M.5 3.500H10.500M.5 7.500H10.500"/></svg>
<div class="f" style="top:800.6px">shipping_latitude</div>
<svg style="left:23px;top:823.5px" width="11" height="11" viewBox="0 0 11 11" fill="none" stroke="#6ec63f" stroke-width="1.200"><path d="M3.500 .5V10.500M7.500 .5V10.500M.5 3.500H10.500M.5 7.500H10.500"/></svg>
<div class="f" style="top:823.8px">shipping_longitude</div>
<svg style="left:23px;top:846.8px" width="11" height="11" viewBox="0 0 11 11" fill="none" stroke="#6ec63f" stroke-width="1.200"><path d="M3.500 .5V10.500M7.500 .5V10.500M.5 3.500H10.500M.5 7.500H10.500"/></svg>
<div class="f" style="top:847.1px">shipping_zip</div>
</div>
<div class="abs" style="left:1678px;top:45px;width:239px;height:42px;border:1px solid #e0e0e8;border-radius:9px;background:#fefefd"></div>
<svg style="left:1685px;top:57px" width="44" height="19" viewBox="0 0 44 19"><g fill="#7ccf3c"><rect x=".4" y="2.800" width="2.300" height="5"/><rect x="8" y="2.800" width="2.200" height="5"/><rect x="15.200" y="2.800" width="2.200" height="5"/></g><g fill="#1f5f2c"><rect x="3.200" y="2.800" width="2.400" height="5"/><rect x="10.700" y="3.300" width="2.300" height="4.500"/><rect x="17.600" y="2.400" width="2.400" height="5.400"/></g><path d="M2.700 16.200 7.500 13.200 11.200 15.200 18.600 11.900" stroke="#c3dab0" stroke-width="1" fill="none"/><circle cx="30" cy="6.500" r="1.700" fill="#9aa6e4"/><circle cx="36.900" cy="2.500" r="1.500" fill="#2a6a3a"/><circle cx="37" cy="6.600" r="1.300" fill="#a6d64e"/><rect x="26" y="13.200" width="16.100" height="4" fill="#dcefa8"/><path d="M27 15.800l1.500-1.600 1.500 1.600 1.500-1.600 1.500 1.600 1.500-1.600 1.500 1.600M37.500 15.600c1.200 0 1.600-1.200 3.500-1.200" stroke="#c6d540" stroke-width="1" fill="none"/></svg>
<div class="t " style="left:1738.5px;top:56.7px;font-size:16.7px;font-family:'DejaVu Serif','Liberation Serif',serif;color:#2b2b2b;-webkit-text-stroke:.25px #2b2b2b">Visual Explorer</div>
<svg style="left:1895.5px;top:64.5px" width="8" height="5" viewBox="0 0 8 5" fill="none" stroke="#222" stroke-width="1.900"><path d="M.8 .8 4 4 7.200 .8"/></svg>
</body>
</html>
